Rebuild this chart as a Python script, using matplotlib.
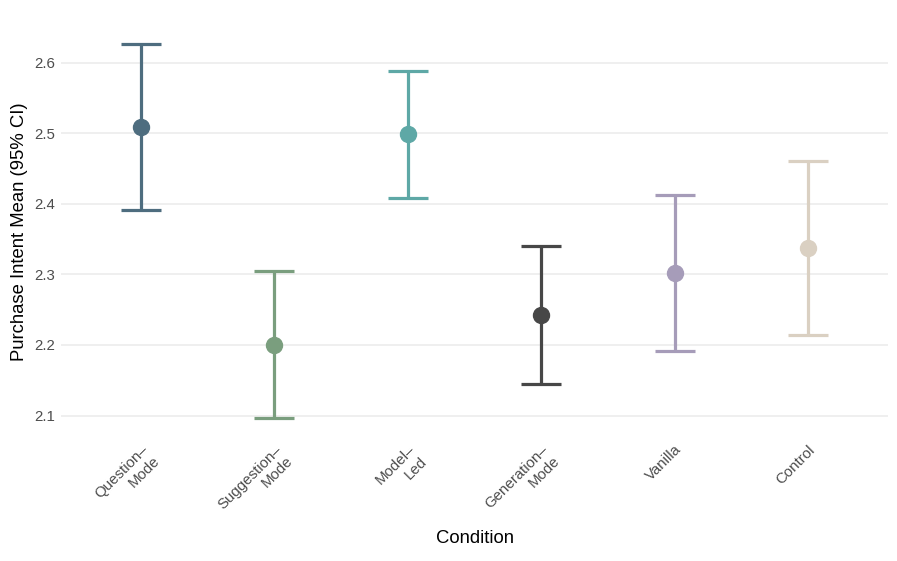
import matplotlib.pyplot as plt
import numpy as np

plt.rcParams['font.family'] = ['Liberation Sans', 'DejaVu Sans']

conditions = ["Question–\nMode", "Suggestion–\nMode", "Model–\nLed",
              "Generation–\nMode", "Vanilla", "Control"]
means = [2.509, 2.200, 2.499, 2.242, 2.302, 2.338]
lower = [2.392, 2.096, 2.409, 2.144, 2.191, 2.214]
upper = [2.626, 2.305, 2.588, 2.341, 2.413, 2.461]
colors = ["#4e6d7f", "#7a9e7e", "#5ea8a6", "#474747", "#a69cb9", "#dad0c2"]

fig = plt.figure(figsize=(8.97, 5.61), dpi=100)
ax = fig.add_axes([0.068, 0.221, 0.922, 0.733])

x = np.arange(1, len(conditions) + 1)
for xi, m, lo, hi, c in zip(x, means, lower, upper, colors):
    ax.errorbar(xi, m, yerr=[[m - lo], [hi - m]], fmt='o', color=c,
                ecolor=c, elinewidth=2.3, capsize=14.5, capthick=2.3,
                markersize=11.5, zorder=3)

ax.set_xlim(0.4, 6.6)
lo_all, hi_all = min(lower), max(upper)
pad = (hi_all - lo_all) * 0.05
ax.set_ylim(lo_all - pad, hi_all + pad)
ax.set_yticks([2.1, 2.2, 2.3, 2.4, 2.5, 2.6])
ax.set_xticks(x)
ax.set_xticklabels(conditions, rotation=45, ha='right', va='top',
                   rotation_mode='anchor', multialignment='right')

ax.grid(axis='y', color='#ebebeb', linewidth=1.1)
ax.grid(axis='x', visible=False)
ax.set_axisbelow(True)
for s in ax.spines.values():
    s.set_visible(False)
ax.tick_params(axis='both', length=0, labelsize=10.8, labelcolor='#4d4d4d', pad=4)

ax.set_xlabel("Condition", fontsize=13.3, labelpad=5)
ax.set_ylabel("Purchase Intent Mean (95% CI)", fontsize=13.3, labelpad=5)

fig.savefig("out.png", dpi=100)
